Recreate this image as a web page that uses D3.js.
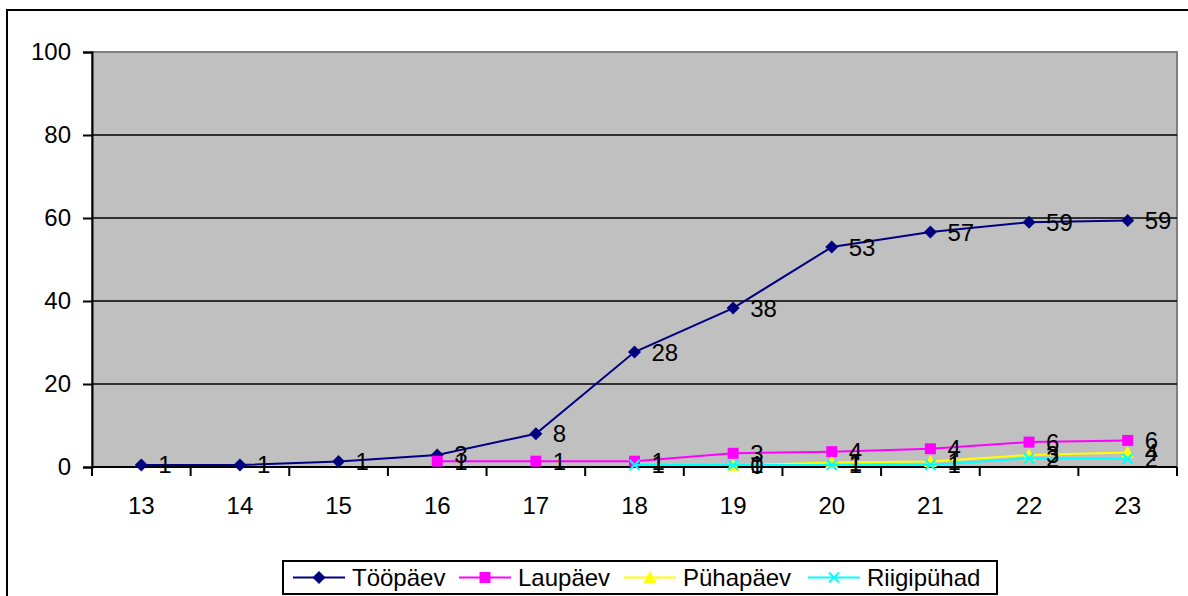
<!DOCTYPE html>
<html>
<head>
<meta charset="utf-8">
<script src="https://cdn.jsdelivr.net/npm/d3@7"></script>
<style>
  html, body { margin: 0; padding: 0; background: #fff; }
  svg { display: block; }
  text { font-family: Arial, "Liberation Sans", sans-serif; fill: #000; }
</style>
</head>
<body>
<svg id="chart" width="1188" height="596"></svg>
<script>
// ---- data ----
const categories = [13, 14, 15, 16, 17, 18, 19, 20, 21, 22, 23];
const yTicks = [0, 20, 40, 60, 80, 100];
const seriesNames = ["Tööpäev", "Laupäev", "Pühapäev", "Riigipühad"];
const toopaev   = [0.5, 0.5, 1.3, 2.9, 8.0, 27.7, 38.3, 53.0, 56.6, 59.0, 59.4];
const laupaev   = [null, null, null, 1.4, 1.4, 1.4, 3.3, 3.7, 4.4, 6.0, 6.4];
const puhapaev  = [null, null, null, null, null, null, 0.4, 1.1, 1.3, 2.9, 3.5];
const riigipuhad= [null, null, null, null, null, 0.5, 0.5, 0.5, 0.5, 2.1, 2.0];
const seriesValues = [toopaev, laupaev, puhapaev, riigipuhad];
const seriesColors = ["#000080", "#FF00FF", "#FFFF00", "#00FFFF"];
const seriesSymbols = ["diamond", "square", "triangle", "cross"];

// ---- layout ----
const FS = 24;
const svg = d3.select("#chart");
const plot = { left: 92, top: 52, right: 1177, bottom: 467 };

const x = d3.scaleBand().domain(categories).range([plot.left, plot.right]).paddingInner(0).paddingOuter(0);
const y = d3.scaleLinear().domain([0, 100]).range([plot.bottom, plot.top]);
const cx = c => x(c) + x.bandwidth() / 2;

// outer frame
svg.append("rect").attr("x", 7).attr("y", 10).attr("width", 1188).attr("height", 600)
  .attr("fill", "#fff").attr("stroke", "#000").attr("stroke-width", 2);

// plot area
svg.append("rect").attr("x", plot.left).attr("y", plot.top)
  .attr("width", plot.right - plot.left).attr("height", plot.bottom - plot.top)
  .attr("fill", "#C0C0C0").attr("stroke", "#808080").attr("stroke-width", 2);

// gridlines
svg.append("g").selectAll("line").data(yTicks.filter(t => t > 0 && t < 100)).join("line")
  .attr("x1", plot.left).attr("x2", plot.right)
  .attr("y1", d => y(d)).attr("y2", d => y(d))
  .attr("stroke", "#000").attr("stroke-width", 1.5);

// y axis
const yAxis = d3.axisLeft(y).tickValues(yTicks).tickSize(9).tickPadding(12);
const gy = svg.append("g").attr("transform", `translate(${plot.left},0)`).call(yAxis);
gy.select(".domain").attr("stroke", "#000").attr("stroke-width", 2);
gy.selectAll(".tick line").attr("stroke", "#000").attr("stroke-width", 2);
gy.selectAll(".tick text").attr("font-size", FS).attr("font-family", "Arial, 'Liberation Sans', sans-serif").attr("fill", "#000");

// x axis: ticks between categories
const xAxisLine = svg.append("g");
xAxisLine.append("line").attr("x1", plot.left).attr("x2", plot.right)
  .attr("y1", plot.bottom).attr("y2", plot.bottom).attr("stroke", "#000").attr("stroke-width", 2);
const boundaries = categories.map(c => x(c)).concat([x(categories[categories.length - 1]) + x.bandwidth()]);
xAxisLine.selectAll("line.tk").data(boundaries).join("line").attr("class", "tk")
  .attr("x1", d => d).attr("x2", d => d).attr("y1", plot.bottom).attr("y2", plot.bottom + 9)
  .attr("stroke", "#000").attr("stroke-width", 2);
xAxisLine.selectAll("text").data(categories).join("text")
  .attr("x", d => cx(d)).attr("y", 505).attr("text-anchor", "middle")
  .attr("dominant-baseline", "central").attr("font-size", FS).text(d => d);

// markers
function drawMarker(g, kind, color, px, py) {
  let d;
  if (kind === "cross") {
    const s = 5;
    g.append("path").attr("d", `M${px - s},${py - s}L${px + s},${py + s}M${px - s},${py + s}L${px + s},${py - s}`)
      .attr("stroke", color).attr("stroke-width", 2).attr("fill", "none");
    return;
  } else if (kind === "diamond") {
    const s = 6.5;
    d = `M${px},${py - s}L${px + s},${py}L${px},${py + s}L${px - s},${py}Z`;
  } else if (kind === "square") {
    const s = 5.5;
    d = `M${px - s},${py - s}H${px + s}V${py + s}H${px - s}Z`;
  } else {
    const s = 6.5;
    d = `M${px},${py - s}L${px + s},${py + s - 1}L${px - s},${py + s - 1}Z`;
  }
  g.append("path").attr("d", d).attr("fill", color).attr("stroke", "none");
}

// series lines + markers
const line = d3.line().defined(d => d.v !== null).x(d => cx(d.c)).y(d => y(d.v));
seriesValues.forEach((vals, i) => {
  const pts = categories.map((c, j) => ({ c, v: vals[j] }));
  const g = svg.append("g");
  g.append("path").datum(pts).attr("d", line).attr("fill", "none")
    .attr("stroke", seriesColors[i]).attr("stroke-width", 2);
  pts.filter(p => p.v !== null).forEach(p => drawMarker(g, seriesSymbols[i], seriesColors[i], cx(p.c), y(p.v)));
});

// data labels
seriesValues.forEach((vals, i) => {
  const pts = categories.map((c, j) => ({ c, v: vals[j] })).filter(p => p.v !== null);
  svg.append("g").selectAll("text").data(pts).join("text")
    .attr("x", d => cx(d.c) + 17).attr("y", d => y(d.v))
    .attr("dominant-baseline", "central").attr("font-size", FS)
    .text(d => Math.round(d.v));
});

// legend
const lg = svg.append("g");
lg.append("rect").attr("x", 283).attr("y", 561).attr("width", 714).attr("height", 33)
  .attr("fill", "#fff").attr("stroke", "#000").attr("stroke-width", 2);
const legendX = [293, 459, 624, 808];
seriesNames.forEach((name, i) => {
  const lx = legendX[i], ly = 577.5;
  lg.append("line").attr("x1", lx).attr("x2", lx + 52).attr("y1", ly).attr("y2", ly)
    .attr("stroke", seriesColors[i]).attr("stroke-width", 2);
  drawMarker(lg, seriesSymbols[i], seriesColors[i], lx + 26, ly);
  lg.append("text").attr("x", lx + 59).attr("y", ly).attr("dominant-baseline", "central")
    .attr("font-size", FS).text(name);
});
</script>
</body>
</html>
